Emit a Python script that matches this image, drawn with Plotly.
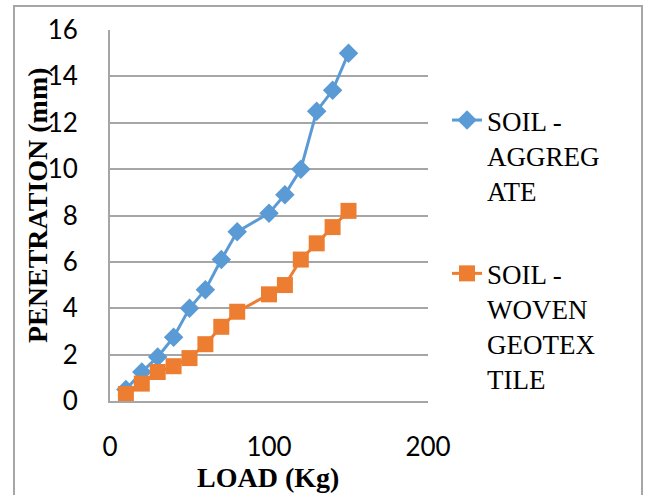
import plotly.graph_objects as go

load_agg = [10, 20, 30, 40, 50, 60, 70, 80, 100, 110, 120, 130, 140, 150]
pen_agg = [0.5, 1.25, 1.9, 2.75, 4.0, 4.8, 6.1, 7.3, 8.1, 8.9, 10.0, 12.5, 13.4, 15.0]

load_wov = [10, 20, 30, 40, 50, 60, 70, 80, 100, 110, 120, 130, 140, 150]
pen_wov = [0.3, 0.75, 1.25, 1.5, 1.85, 2.45, 3.2, 3.85, 4.6, 5.0, 6.1, 6.8, 7.5, 8.2]

name_agg = "SOIL -<br>AGGREG<br>ATE"
name_wov = "SOIL -<br>WOVEN<br>GEOTEX<br>TILE"

x_ticks = [0, 100, 200]
y_ticks = [0, 2, 4, 6, 8, 10, 12, 14, 16]

BLUE = "#5B9BD5"
ORANGE = "#ED7D31"
GRID = "#A6A6A6"

fig = go.Figure()
fig.add_trace(go.Scatter(
    x=load_agg, y=pen_agg, name=name_agg, mode="lines+markers",
    line=dict(color=BLUE, width=3),
    marker=dict(symbol="diamond", size=15, color=BLUE),
    legendgroup="a", cliponaxis=False,
))
fig.add_trace(go.Scatter(
    x=load_wov, y=pen_wov, name=name_wov, mode="lines+markers",
    line=dict(color=ORANGE, width=3),
    marker=dict(symbol="square", size=16, color=ORANGE),
    legendgroup="b", cliponaxis=False,
))

W, H = 649, 495
L, R, T, B = 110, 221, 30, 94
pw = W - L - R
ph = H - T - B

def px_x(px):
    return (px - L) / pw

def px_y(py):
    return (H - B - py) / ph

fig.update_layout(
    width=W, height=H,
    margin=dict(l=L, r=R, t=T, b=B),
    paper_bgcolor="white", plot_bgcolor="white",
    showlegend=True,
    legend=dict(
        x=px_x(447), y=px_y(96), xanchor="left", yanchor="top",
        font=dict(family="Liberation Serif", size=27, color="black"),
        valign="top", tracegroupgap=45, bgcolor="rgba(0,0,0,0)",
        itemwidth=30,
    ),
    xaxis=dict(
        range=[0, 200], tickvals=x_ticks, showgrid=False, zeroline=False,
        showline=True, linecolor=GRID, linewidth=2,
        tickfont=dict(family="Lato", size=26, color="black"),
        ticks="", ticklabelstandoff=22,
    ),
    yaxis=dict(
        range=[0, 16], tickvals=y_ticks, showgrid=True, gridcolor=GRID, gridwidth=2,
        zeroline=False, showline=True, linecolor=GRID, linewidth=2,
        tickfont=dict(family="Lato", size=26, color="black"),
        ticks="", ticklabelstandoff=25,
    ),
    annotations=[
        dict(text="<b>PENETRATION (mm)</b>", textangle=-90, xref="paper", yref="paper",
             x=px_x(37), y=px_y(205), xanchor="center", yanchor="middle", showarrow=False,
             font=dict(family="Liberation Serif", size=28, color="black")),
        dict(text="<b>LOAD (Kg)</b>", xref="paper", yref="paper",
             x=px_x(268), y=px_y(477), xanchor="center", yanchor="middle", showarrow=False,
             font=dict(family="Liberation Serif", size=28, color="black")),
    ],
    shapes=[
        dict(type="rect", xref="paper", yref="paper",
             x0=px_x(14), x1=px_x(642), y0=px_y(505), y1=px_y(6),
             line=dict(color=GRID, width=2), layer="below"),
    ],
)

fig.write_html("out.html")
